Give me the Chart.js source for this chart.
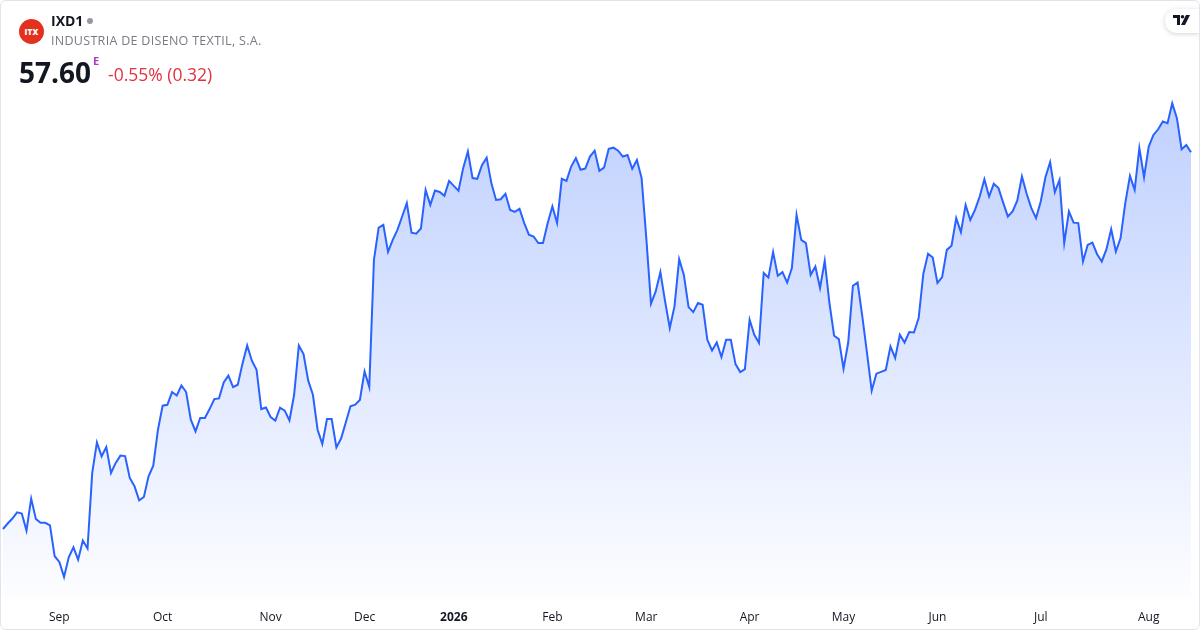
<!DOCTYPE html>
<html>
<head>
<meta charset="utf-8">
<title>IXD1</title>
<script src="https://cdn.jsdelivr.net/npm/chart.js@4.4.1/dist/chart.umd.min.js"></script>
<style>
  html, body { margin: 0; padding: 0; background: #fff; }
  body { width: 1200px; height: 630px; overflow: hidden; font-family: "Open Sans", "Noto Sans", sans-serif; }
  .card { position: relative; width: 1198px; height: 628px; border: 1px solid #e0e3eb; border-radius: 6px; overflow: hidden; background: #fff; }
  #chart { position: absolute; left: -1px; top: -1px; }
  .head { position: absolute; left: 0; top: 0; z-index: 2; }
  .logo { position: absolute; left: 18px; top: 18px; width: 25px; height: 25px; border-radius: 50%; background: #e2321f; color: #fff; font: 800 8px "Open Sans", sans-serif; line-height: 25px; text-align: center; letter-spacing: 0.2px; }
  .sym { position: absolute; left: 50px; top: 10px; font-size: 14px; font-weight: 700; color: #131722; white-space: nowrap; }
  .sym .dot { display: inline-block; width: 6px; height: 6px; border-radius: 50%; background: #9598a1; margin-left: 4px; vertical-align: 2px; }
  .name { position: absolute; left: 50px; top: 31px; font-size: 12.5px; color: #787b86; white-space: nowrap; letter-spacing: 0.3px; }
  .price { position: absolute; left: 18px; top: 52px; font-size: 28px; font-weight: 700; color: #131722; white-space: nowrap; }
  .price sup { font-size: 11px; color: #a43ec4; font-weight: 700; position: relative; top: -8px; margin-left: 2px; }
  .chg { position: absolute; left: 107px; top: 61px; font-size: 17.5px; color: #e0323f; white-space: nowrap; }
  .tv { position: absolute; right: 0; top: 8px; width: 34px; height: 24px; background: #fff; border-radius: 12px 0 0 12px; box-shadow: 0 1px 5px rgba(0,0,0,0.18); z-index: 2; }
  .tv svg { position: absolute; left: 8px; top: 6px; }
</style>
</head>
<body>
<div class="card">
  <canvas id="chart" width="1200" height="630"></canvas>
  <div class="head">
    <div class="logo">ITX</div>
    <div class="sym">IXD1<span class="dot"></span></div>
    <div class="name">INDUSTRIA DE DISENO TEXTIL, S.A.</div>
    <div class="price">57.60<sup>E</sup></div>
    <div class="chg">-0.55% (0.32)</div>
  </div>
  <div class="tv">
    <svg width="18" height="12" viewBox="0 0 18 12">
      <path d="M0 0 H7 V10 H4 V3 H0 Z" fill="#131722"/>
      <circle cx="9.5" cy="1.8" r="1.8" fill="#131722"/>
      <path d="M13 0 H17 L12 10 H8 Z" fill="#131722"/>
    </svg>
  </div>
</div>
<script>
// daily closes, Aug 2025 .. Aug 2026
const closes = [
  41.01, 41.25, 41.47, 41.74, 41.69, 40.94, 42.35, 41.45, 41.28, 41.28,
  41.17, 39.81, 39.56, 38.90, 39.76, 40.20, 39.66, 40.50, 40.15, 43.48,
  44.82, 44.21, 44.62, 43.48, 43.92, 44.24, 44.22, 43.26, 42.89, 42.27,
  42.42, 43.33, 43.80, 45.38, 46.44, 46.48, 47.04, 46.89, 47.33, 47.04,
  45.82, 45.31, 45.90,
  45.90, 46.29, 46.73, 46.76, 47.46, 47.76, 47.26, 47.36, 48.29, 49.09,
  48.42, 48.02, 46.29, 46.36, 45.94, 45.78, 46.35, 46.22, 45.79, 46.92,
  49.09, 48.71, 47.54, 46.92, 45.38, 44.75, 45.85, 45.85, 44.60, 44.99,
  45.70, 46.41, 46.48, 46.69, 47.95, 47.26,
  52.86, 54.28, 54.40, 53.21, 53.74, 54.18, 54.77, 55.36, 54.06, 54.01,
  54.24, 55.94, 55.28, 55.91, 55.85, 55.68, 56.34, 56.12, 55.91, 56.90,
  57.63, 56.46, 56.43, 57.03, 57.36, 56.24, 55.50, 55.53, 55.77, 55.06,
  54.97, 55.11, 54.48, 53.97, 53.89, 53.60, 53.60, 54.48, 55.21, 54.48,
  56.43, 56.34, 56.97, 57.34, 56.83, 56.88, 57.41, 57.67, 56.78, 56.92,
  57.75, 57.80, 57.67, 57.41, 57.48, 56.87, 57.26, 56.46, 53.82, 50.93,
  51.47, 52.32, 51.03, 49.86, 50.81, 52.89, 52.20, 50.78, 50.56, 50.96,
  50.88, 49.34, 48.87, 49.22, 48.58, 49.34, 49.34, 48.27, 47.92, 48.05,
  50.22, 49.56, 49.20, 52.28, 52.08, 53.20, 52.16, 52.32, 51.86, 52.50,
  54.84, 53.74, 53.60, 52.20, 52.57, 51.62, 52.82, 50.96, 49.52, 49.37,
  48.07, 49.22, 51.72, 51.86, 50.37, 48.76, 47.10, 47.85, 47.93, 48.01,
  49.05, 48.54, 49.56, 49.22, 49.68, 49.66, 50.30, 52.25, 53.13, 52.96,
  51.84, 52.10,
  53.30, 53.48, 54.70, 54.08, 55.28, 54.62, 55.06, 55.65, 56.41, 55.65,
  56.21, 56.02, 55.38, 54.77, 54.99, 55.47, 56.53, 55.77, 55.14, 54.70,
  55.43, 56.50, 57.16, 55.84, 56.38, 53.60, 54.99, 54.50, 54.48, 52.79,
  53.52, 53.62, 53.11, 52.79, 53.33, 54.21, 53.23, 53.82, 55.36, 56.56,
  55.94, 57.78,
  56.50, 57.85, 58.36, 58.61, 58.95, 58.88, 59.76, 59.10, 57.73, 57.92,
  57.60
];

// x-axis month labels and the session index where each month starts
const monthLabels = ['Sep', 'Oct', 'Nov', 'Dec', '2026', 'Feb', 'Mar', 'Apr', 'May', 'Jun', 'Jul', 'Aug'];
const monthStarts = [12, 34, 57, 77, 96, 117, 137, 159, 179, 199, 221, 244];

const labelAt = {};
monthStarts.forEach((idx, k) => { labelAt[idx] = monthLabels[k]; });

const ctx = document.getElementById('chart').getContext('2d');

new Chart(ctx, {
  type: 'line',
  data: {
    labels: closes.map((_, i) => i),
    datasets: [{
      data: closes,
      borderColor: '#2962ff',
      borderWidth: 2,
      pointRadius: 0,
      tension: 0,
      fill: 'start',
      backgroundColor: (c) => {
        const area = c.chart.chartArea;
        if (!area) return 'rgba(41,98,255,0.2)';
        const g = c.chart.ctx.createLinearGradient(0, area.top, 0, area.bottom);
        g.addColorStop(0, 'rgba(41,98,255,0.30)');
        g.addColorStop(1, 'rgba(41,98,255,0.01)');
        return g;
      }
    }]
  },
  options: {
    responsive: false,
    animation: false,
    layout: { padding: { left: 3, right: 9, top: 90, bottom: 5 } },
    plugins: { legend: { display: false }, tooltip: { enabled: false } },
    scales: {
      x: {
        offset: false,
        // tick marks hidden, but their length keeps the labels off the plot
        grid: { display: false, drawTicks: true, tickLength: 11 },
        border: { display: false },
        ticks: {
          autoSkip: false,
          maxRotation: 0,
          padding: 0,
          color: '#131722',
          font: (c) => ({
            family: '"Open Sans", sans-serif',
            size: 12,
            weight: c.tick && c.tick.label === '2026' ? 'bold' : 'normal'
          }),
          callback: (v, i) => labelAt[i] || ''
        }
      },
      y: {
        display: false,
        min: 37.9,
        max: 60.34
      }
    }
  }
});
</script>
</body>
</html>
